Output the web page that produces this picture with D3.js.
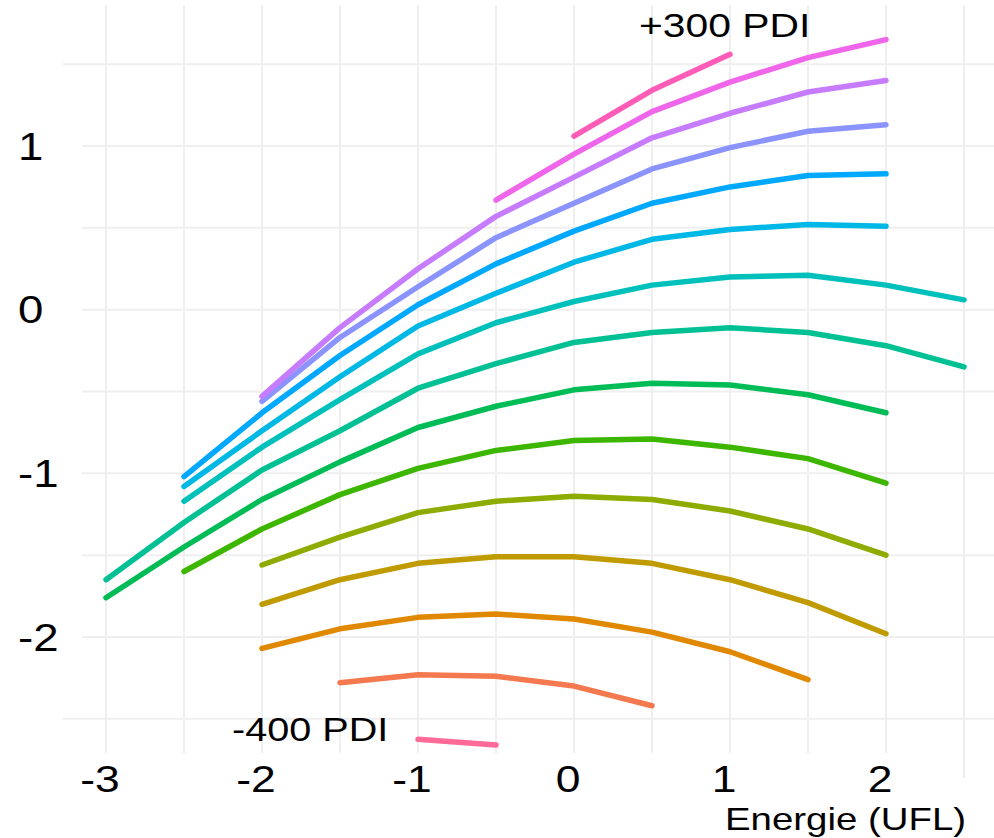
<!DOCTYPE html>
<html><head><meta charset="utf-8">
<script src="https://cdn.jsdelivr.net/npm/d3@7"></script>
<style>body{margin:0;background:#fff}svg{display:block}text{font-family:"Liberation Sans",Arial,sans-serif;fill:#000}</style>
</head><body>
<script>
// ---- data ----
const xGrid = [-3, -2.5, -2, -1.5, -1, -0.5, 0, 0.5, 1, 1.5, 2, 2.5];
const levels = ["-400","-350","-300","-250","-200","-150","-100","-50","0","50","100","150","200","250","300"];
const xStart = [-1, -1.5, -2, -2, -2, -2.5, -3, -3, -2.5, -2.5, -2.5, -2, -2, -0.5, 0];
const pdiM400 = [-2.625, -2.66];
const pdiM350 = [-2.28, -2.23, -2.24, -2.30, -2.42];
const pdiM300 = [-2.07, -1.95, -1.88, -1.86, -1.89, -1.97, -2.09, -2.26];
const pdiM250 = [-1.80, -1.65, -1.55, -1.51, -1.51, -1.55, -1.65, -1.79, -1.98];
const pdiM200 = [-1.56, -1.39, -1.24, -1.17, -1.14, -1.16, -1.23, -1.34, -1.50];
const pdiM150 = [-1.60, -1.34, -1.13, -0.97, -0.86, -0.80, -0.79, -0.84, -0.91, -1.06];
const pdiM100 = [-1.76, -1.45, -1.16, -0.93, -0.72, -0.59, -0.49, -0.45, -0.46, -0.52, -0.63];
const pdiM50  = [-1.65, -1.30, -0.98, -0.74, -0.48, -0.33, -0.20, -0.14, -0.11, -0.14, -0.22, -0.35];
const pdi0    = [-1.17, -0.84, -0.55, -0.27, -0.08, 0.05, 0.15, 0.20, 0.21, 0.15, 0.06];
const pdi50   = [-1.08, -0.74, -0.41, -0.10, 0.10, 0.29, 0.43, 0.49, 0.52, 0.51];
const pdi100  = [-1.02, -0.63, -0.28, 0.03, 0.28, 0.48, 0.65, 0.75, 0.82, 0.83];
const pdi150  = [-0.56, -0.17, 0.14, 0.44, 0.65, 0.86, 0.99, 1.09, 1.13];
const pdi200  = [-0.53, -0.11, 0.25, 0.57, 0.81, 1.05, 1.20, 1.33, 1.40];
const pdi250  = [0.67, 0.95, 1.21, 1.39, 1.54, 1.65];
const pdi300  = [1.06, 1.34, 1.56];
const seriesValues = [pdiM400, pdiM350, pdiM300, pdiM250, pdiM200, pdiM150, pdiM100, pdiM50, pdi0, pdi50, pdi100, pdi150, pdi200, pdi250, pdi300];
const colors = ["#FF6A98","#F4794F","#E08900","#C09B00","#8EAB00","#3DB600","#00BC56","#00C094","#00C0BC","#00B8E5","#00A9FF","#8B93FF","#C77CFF","#F066EA","#FF5CB8"];
const xTicks = [-3, -2, -1, 0, 1, 2];
const yTicks = [-2, -1, 0, 1];
const xMinor = [-2.5, -1.5, -0.5, 0.5, 1.5, 2.5];
const yMinor = [-2.5, -1.5, -0.5, 0.5, 1.5];
const labelTop = "+300 PDI", labelBottom = "-400 PDI", xTitle = "Energie (UFL)";

// ---- drawing ----
const W = 994, H = 838;
const svg = d3.select("body").append("svg").attr("width", W).attr("height", H);
const x = d3.scaleLinear().domain([-3, 2]).range([106, 886]);
const y = d3.scaleLinear().domain([-2, 1]).range([637, 146]);
const SX = 1.2;

const grid = svg.append("g").attr("stroke", "#efefef").attr("stroke-width", 2);
[...xTicks, ...xMinor].forEach(v => {
  grid.append("line").attr("x1", x(v)).attr("x2", x(v)).attr("y1", 5).attr("y2", v === 2.5 ? 778 : 753);
});
[...yTicks, ...yMinor].forEach(v => {
  grid.append("line").attr("y1", y(v)).attr("y2", y(v)).attr("x1", (v === 1.5 || v === -2.5) ? 63 : 82).attr("x2", W);
});

const line = d3.line().x(d => x(d[0])).y(d => y(d[1]));
seriesValues.forEach((vals, i) => {
  const i0 = xGrid.indexOf(xStart[i]);
  const pts = vals.map((v, k) => [xGrid[i0 + k], v]);
  svg.append("path").datum(pts).attr("d", line)
    .attr("fill", "none").attr("stroke", colors[i]).attr("stroke-width", 5.5)
    .attr("stroke-linecap", "round").attr("stroke-linejoin", "round");
});

function stretchedText(px, py, str, size, anchor) {
  const g = svg.append("g").attr("transform", `translate(${px},${py}) scale(${SX},1)`);
  return g.append("text").attr("text-anchor", anchor).attr("font-size", size).text(str);
}
const fmt = v => (v < 0 ? "-" : "") + Math.abs(v);
yTicks.forEach(v => stretchedText(18, y(v) + 13.5, fmt(v), 38, "start"));
xTicks.forEach(v => stretchedText(x(v) - 6, 792, fmt(v), 37, "middle"));
stretchedText(725, 830, xTitle, 32, "start");
stretchedText(639, 37, labelTop, 34, "start");
stretchedText(232, 741, labelBottom, 33, "start");
</script>
</body></html>
